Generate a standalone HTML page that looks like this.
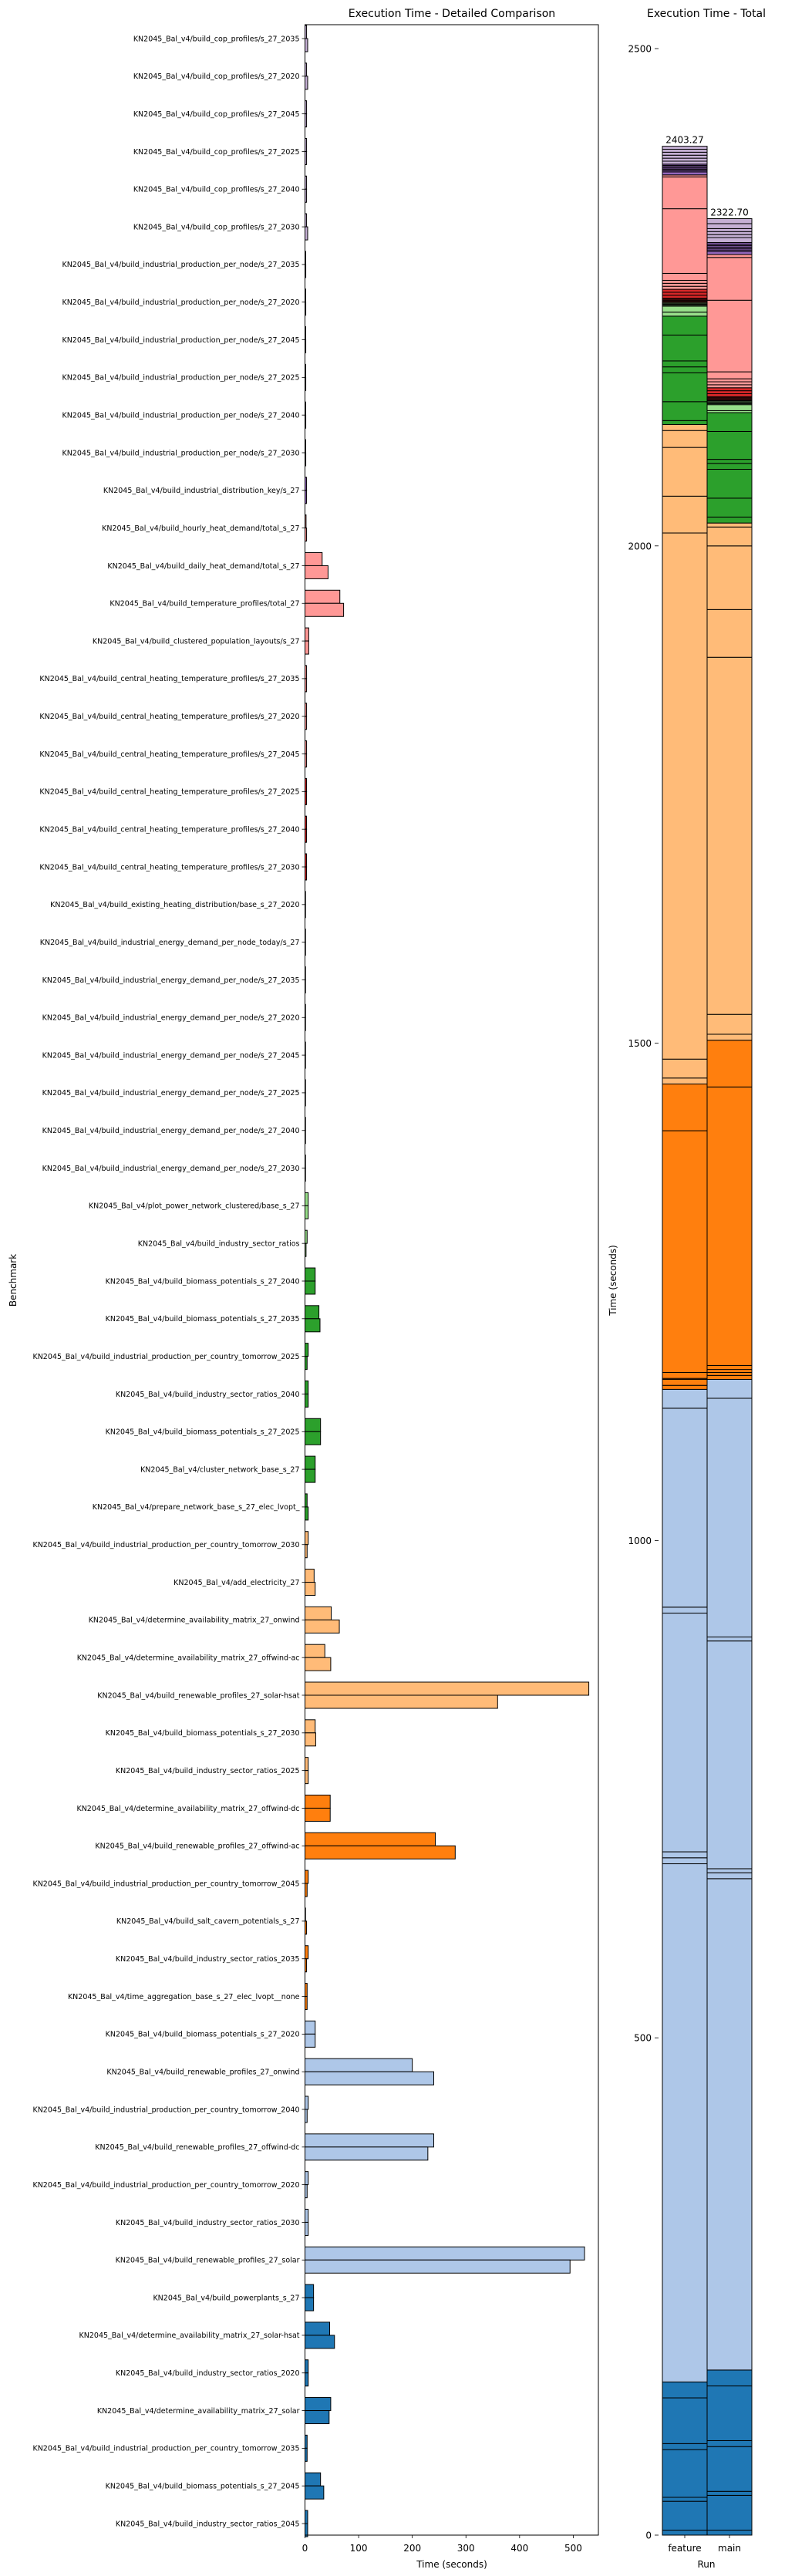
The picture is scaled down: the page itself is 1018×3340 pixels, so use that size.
<!DOCTYPE html>
<html>
<head>
<meta charset="utf-8">
<style>
  html, body { margin: 0; padding: 0; background: #ffffff; }
  svg { display: block; font-family: "DejaVu Sans", "Liberation Sans", sans-serif; }
</style>
</head>
<body>
<svg id="chart" width="1018" height="3340" viewBox="0 0 1018 3340" xmlns="http://www.w3.org/2000/svg">
  <rect x="0" y="0" width="1018" height="3340" fill="#ffffff"/>
  <text x="586" y="22" font-size="14" text-anchor="middle" fill="#000">Execution Time - Detailed Comparison</text>
  <text x="916" y="22" font-size="14" text-anchor="middle" fill="#000">Execution Time - Total</text>
  <g id="left"></g>
  <g id="right"></g>
  <text x="586" y="3329" font-size="12" text-anchor="middle" fill="#000">Time (seconds)</text>
  <text x="0" y="0" font-size="12" text-anchor="middle" fill="#000" transform="translate(21,1660) rotate(-90)">Benchmark</text>
  <text x="0" y="0" font-size="12" text-anchor="middle" fill="#000" transform="translate(799,1660) rotate(-90)">Time (seconds)</text>
  <text x="916" y="3329" font-size="12" text-anchor="middle" fill="#000">Run</text>
</svg>
<script>
const P = "KN2045_Bal_v4/";
const categories = [
  "build_cop_profiles/s_27_2035","build_cop_profiles/s_27_2020","build_cop_profiles/s_27_2045","build_cop_profiles/s_27_2025","build_cop_profiles/s_27_2040","build_cop_profiles/s_27_2030",
  "build_industrial_production_per_node/s_27_2035","build_industrial_production_per_node/s_27_2020","build_industrial_production_per_node/s_27_2045","build_industrial_production_per_node/s_27_2025","build_industrial_production_per_node/s_27_2040","build_industrial_production_per_node/s_27_2030",
  "build_industrial_distribution_key/s_27","build_hourly_heat_demand/total_s_27","build_daily_heat_demand/total_s_27","build_temperature_profiles/total_27","build_clustered_population_layouts/s_27",
  "build_central_heating_temperature_profiles/s_27_2035","build_central_heating_temperature_profiles/s_27_2020","build_central_heating_temperature_profiles/s_27_2045","build_central_heating_temperature_profiles/s_27_2025","build_central_heating_temperature_profiles/s_27_2040","build_central_heating_temperature_profiles/s_27_2030",
  "build_existing_heating_distribution/base_s_27_2020","build_industrial_energy_demand_per_node_today/s_27",
  "build_industrial_energy_demand_per_node/s_27_2035","build_industrial_energy_demand_per_node/s_27_2020","build_industrial_energy_demand_per_node/s_27_2045","build_industrial_energy_demand_per_node/s_27_2025","build_industrial_energy_demand_per_node/s_27_2040","build_industrial_energy_demand_per_node/s_27_2030",
  "plot_power_network_clustered/base_s_27","build_industry_sector_ratios","build_biomass_potentials_s_27_2040","build_biomass_potentials_s_27_2035",
  "build_industrial_production_per_country_tomorrow_2025","build_industry_sector_ratios_2040","build_biomass_potentials_s_27_2025","cluster_network_base_s_27",
  "prepare_network_base_s_27_elec_lvopt_","build_industrial_production_per_country_tomorrow_2030","add_electricity_27",
  "determine_availability_matrix_27_onwind","determine_availability_matrix_27_offwind-ac","build_renewable_profiles_27_solar-hsat",
  "build_biomass_potentials_s_27_2030","build_industry_sector_ratios_2025","determine_availability_matrix_27_offwind-dc","build_renewable_profiles_27_offwind-ac",
  "build_industrial_production_per_country_tomorrow_2045","build_salt_cavern_potentials_s_27","build_industry_sector_ratios_2035","time_aggregation_base_s_27_elec_lvopt__none",
  "build_biomass_potentials_s_27_2020","build_renewable_profiles_27_onwind","build_industrial_production_per_country_tomorrow_2040","build_renewable_profiles_27_offwind-dc",
  "build_industrial_production_per_country_tomorrow_2020","build_industry_sector_ratios_2030","build_renewable_profiles_27_solar","build_powerplants_s_27",
  "determine_availability_matrix_27_solar-hsat","build_industry_sector_ratios_2020","determine_availability_matrix_27_solar","build_industrial_production_per_country_tomorrow_2035",
  "build_biomass_potentials_s_27_2045","build_industry_sector_ratios_2045"
];
const featureValues = [3,3,3,3,3,3, 1.3,1.3,1.3,1.3,1.3,1.3, 3,2,32,65,7, 3,3,3,3,3,3, 1,1, 1,1,1,1,1,1, 6,4,19,26, 6,6,29,19, 4,6,17, 49,37,529, 19,6,47,243, 6,1,6,4, 19,200,6,240, 6,6,521,16, 46,6,48,4, 29,5];
const mainValues    = [5,5,3,3,3,5, 1.5,1.5,1.5,1.5,1.5,1.5, 3,3,43,72,7, 3,3,3,3,3,3, 1,1, 1,1,1,1,1,1, 6,2,19,28, 4,6,29,19, 6,4,19, 64,48,359, 20,6,47,280, 4,3,3,4, 19,240,4,229, 4,6,494,16, 55,6,45,4, 35,5];
const colorGroup    = [9,9,9,9,9,9, 8,8,8,8,8,8, 8,7,7,7,7, 7,7,7,6,6,6, 6,6, 6,6,5,5,5,5, 5,5,4,4, 4,4,4,4, 4,3,3, 3,3,3, 3,3,2,2, 2,2,2,2, 1,1,1,1, 1,1,1,0, 0,0,0,0, 0,0];
const xTicks = [0,100,200,300,400,500];
const yTicksTotal = [0,500,1000,1500,2000,2500];
const runs = ["feature","main"];
const totals = [2403.27, 2322.70];

const palette = ["#1f77b4","#aec7e8","#ff7f0e","#ffbb78","#2ca02c","#98df8a","#d62728","#ff9896","#9467bd","#c5b0d5"];
const NS = "http://www.w3.org/2000/svg";
function mk(tag, attrs, parent) {
  const e = document.createElementNS(NS, tag);
  for (const k in attrs) e.setAttribute(k, attrs[k]);
  parent.appendChild(e);
  return e;
}

// ---------- left chart ----------
const L = {x0: 395.5, x1: 776, y0: 32, y1: 3287};
const pxPerSec = 0.6958;
const xScale = v => L.x0 + v * pxPerSec;
const rowStep = (3272 - 50) / (categories.length - 1);
const yCenter = k => 50 + k * rowStep;
const barH = 17;
const left = document.getElementById("left");

categories.forEach((c, k) => {
  const yc = yCenter(k);
  const col = palette[colorGroup[k]];
  const bf = mk("rect", {x: L.x0, y: yc - barH, width: Math.max(0, xScale(featureValues[k]) - L.x0), height: barH, fill: col, stroke: "#000", "stroke-width": 1}, left);
  
  
  const bm = mk("rect", {x: L.x0, y: yc, width: Math.max(0, xScale(mainValues[k]) - L.x0), height: barH, fill: col, stroke: "#000", "stroke-width": 1}, left);
  
  
  const tk = mk("line", {x1: L.x0 - 4, x2: L.x0, y1: yc, y2: yc, stroke: "#000", "stroke-width": 0.8}, left);
  
  
  const t = mk("text", {x: L.x0 - 7, y: yc + 3.3, "font-size": 9.5, "text-anchor": "end", fill: "#000"}, left);
  t.textContent = P + c;
  
  
});
const frame = mk("rect", {x: L.x0, y: L.y0, width: L.x1 - L.x0, height: L.y1 - L.y0, fill: "none", stroke: "#000", "stroke-width": 1}, left);


xTicks.forEach(v => {
  const x = xScale(v);
  const l = mk("line", {x1: x, x2: x, y1: L.y1, y2: L.y1 + 4, stroke: "#000", "stroke-width": 0.8}, left);
  
  
  const t = mk("text", {x: x, y: 3308, "font-size": 12, "text-anchor": "middle", fill: "#000"}, left);
  t.textContent = v;
  
  
});

// ---------- right chart ----------
const right = document.getElementById("right");
const R = {base: 3287, pxPerUnit: 1.2896, axisX: 854};
const yScale = v => R.base - v * R.pxPerUnit;
const runX = [859, 917];
const runW = 58;
const series = [featureValues, mainValues];
series.forEach((vals, ri) => {
  let acc = 0;
  for (let k = vals.length - 1; k >= 0; k--) {
    const y0 = yScale(acc), y1 = yScale(acc + vals[k]);
    const s = mk("rect", {x: runX[ri], y: y1, width: runW, height: y0 - y1, fill: palette[colorGroup[k]], stroke: "#000", "stroke-width": 1}, right);
    
    
    acc += vals[k];
  }
  const lab = mk("text", {x: runX[ri] + runW / 2, y: yScale(acc) - 4, "font-size": 12, "text-anchor": "middle", fill: "#000"}, right);
  lab.textContent = totals[ri].toFixed(2);
  
  
  const cx = runX[ri] + runW / 2;
  const tl = mk("line", {x1: cx, x2: cx, y1: R.base, y2: R.base + 4, stroke: "#000", "stroke-width": 0.8}, right);
  
  
  const rt = mk("text", {x: cx, y: 3308, "font-size": 12, "text-anchor": "middle", fill: "#000"}, right);
  rt.textContent = runs[ri];
  
  
});
yTicksTotal.forEach(v => {
  const y = yScale(v);
  const l = mk("line", {x1: R.axisX - 5, x2: R.axisX, y1: y, y2: y, stroke: "#000", "stroke-width": 0.8}, right);
  
  
  const t = mk("text", {x: R.axisX - 9, y: y + 4.5, "font-size": 12, "text-anchor": "end", fill: "#000"}, right);
  t.textContent = v;
  
  
});
</script>
</body>
</html>
